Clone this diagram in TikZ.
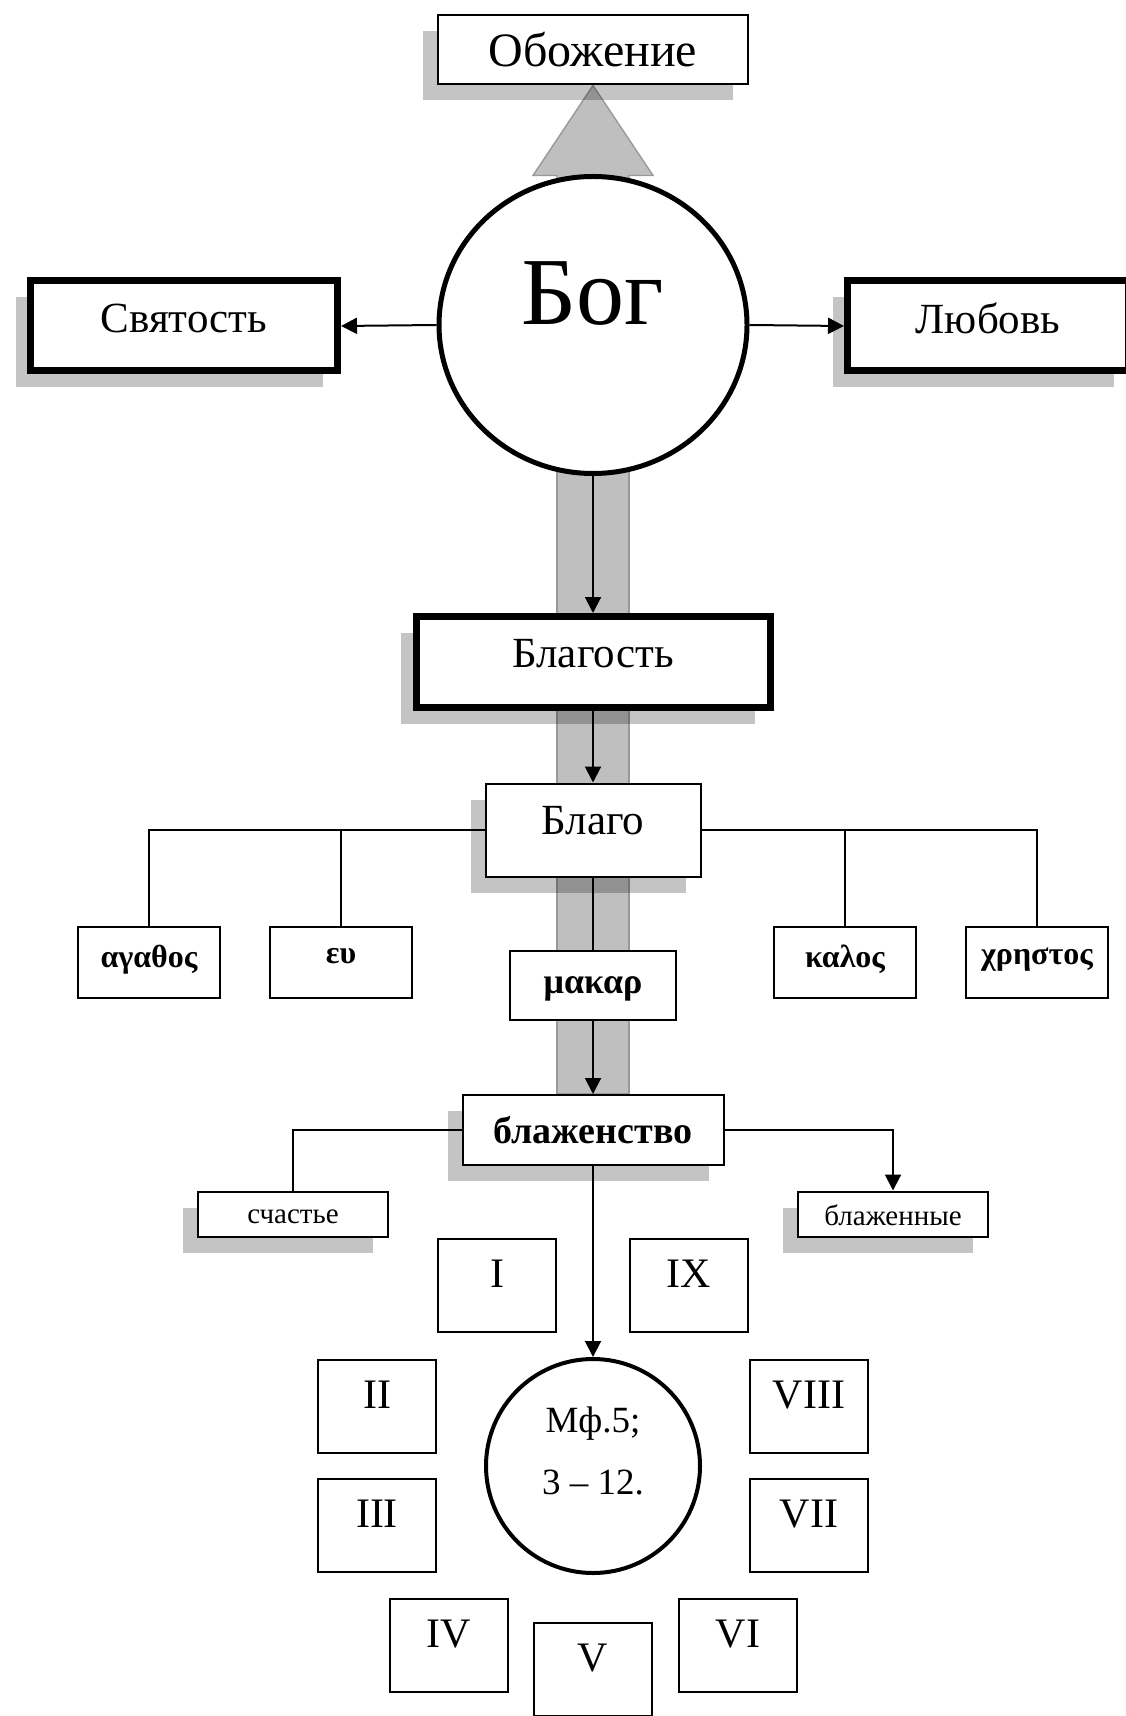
\documentclass[tikz,border=0pt]{standalone}
\usepackage{fontspec}
\setmainfont{Liberation Serif}
\usepackage{tikz}
\usetikzlibrary{calc}
\usetikzlibrary{shapes}
\usetikzlibrary{shadows}
\usetikzlibrary{arrows.meta}
\usetikzlibrary{backgrounds}
\tikzset{
  box/.style={draw, fill=white, line width=1pt, inner sep=0pt},
  heavy/.style={box, line width=3.5pt},
  shade/.style={drop shadow={shadow xshift=-7.5pt, shadow yshift=-8pt, fill=black, opacity=.23}},
  lift/.style={text depth=#1},
  big/.style={font=\fontsize{21.5}{26}\selectfont},
  arr/.style={line width=1pt, -{Triangle[length=8pt,width=8pt]}},
  plain/.style={line width=1pt},
  bigarrow/.style={fill=black!25, draw=black!40, line width=0.7pt},
  greek/.style={box, minimum width=71pt, minimum height=35.5pt, font=\fontsize{16}{19}\selectfont\bfseries, lift=6pt},
  numbox/.style={box, minimum width=59pt, minimum height=46.5pt, font=\fontsize{21}{25}\selectfont, lift=11pt},
  small/.style={box, shade, minimum width=95pt, minimum height=22.5pt, font=\fontsize{14.5}{17}\selectfont}
}
\newcommand{\greekbox}[4]{\node[greek] (#1) at ( #2 , #3 ) {#4};}
\newcommand{\beatitude}[4]{\node[numbox] (#1) at ( #2 , #3 ) {#4};}

\begin{document}
\begin{tikzpicture}[x=0.5pt, y=-0.5pt]
        \useasboundingbox (0,0) rectangle (1125,1716);

        % top
        \node[box, shade, minimum width=155pt, minimum height=34.5pt, font=\fontsize{24}{28}\selectfont] (obozh) at (593,50) {Обожение};
        \node[ellipse, draw, fill=white, line width=2.5pt, inner sep=0pt, minimum width=154pt, minimum height=148.5pt, font=\fontsize{48}{56}\selectfont, lift=32pt] (bog) at (593,325) {Бог};
        \node[heavy, shade, big, minimum width=153.5pt, minimum height=45pt, lift=8pt] (svyat) at (184,326) {Святость};
        \node[heavy, shade, big, minimum width=140.5pt, minimum height=45pt, lift=8pt] (lyub) at (988,326) {Любовь};

        % middle
        \node[heavy, shade, big, minimum width=177pt, minimum height=45.5pt, lift=9pt] (blagost) at (593,662) {Благость};
        \node[box, shade, big, minimum width=107.5pt, minimum height=46.5pt, lift=10pt] (blago) at (593,830) {Благо};

        \greekbox{agathos}{149}{962}{αγαθος}
        \greekbox{eu}{341}{962}{ευ}
        \greekbox{kalos}{845}{962}{καλος}
        \greekbox{chrestos}{1037}{962}{χρηστος}

        \node[box, minimum width=83pt, minimum height=34.5pt, font=\fontsize{18}{21}\selectfont\bfseries, lift=0pt] (makar) at (593,985) {μακαρ};
        \node[box, shade, minimum width=130.5pt, minimum height=35pt, font=\fontsize{19}{22}\selectfont\bfseries] (blazh) at (593,1130) {блаженство};
        \node[small, text height=10pt] (schast) at (293,1214) {счастье};
        \node[small, text height=12pt] (blazhen) at (893,1214) {блаженные};

        % bottom
        \node[circle, draw, fill=white, line width=2pt, inner sep=0pt, minimum size=107pt, align=center, font=\fontsize{18.5}{31}\selectfont, lift=15pt] (mf) at (593,1466) {Мф.5;\\3 – 12.};

        \beatitude{r1}{497}{1285}{I}
        \beatitude{r9}{689}{1285}{IX}
        \beatitude{r2}{377}{1406}{II}
        \beatitude{r8}{809}{1406}{VIII}
        \beatitude{r3}{377}{1525}{III}
        \beatitude{r7}{809}{1525}{VII}
        \beatitude{r4}{449}{1645}{IV}
        \beatitude{r6}{738}{1645}{VI}
        \beatitude{r5}{593}{1669}{V}

        % wide grey arrows
        \begin{scope}[on background layer]
        \filldraw[bigarrow] ($(obozh.south)+(-36,200)$) -- ++(0,-110) -- ++(-24,0) -- (obozh.south) -- ++(60,90) -- ++(-24,0) -- ++(0,110) -- cycle;
        \filldraw[bigarrow] ($(bog.center)+(-36,0)$) rectangle ($(blazh.north)+(36,0)$);
        \end{scope}

        % connectors
        \draw[arr] (bog.west) -- (svyat.east);
        \draw[arr] (bog.east) -- (lyub.west);
        \draw[arr] (bog.south) -- (blagost.north);
        \draw[arr] (blagost.south) -- (blago.north);
        \draw[plain] (blago.west) -| (agathos.north);
        \draw[plain] (blago.west) -| (eu.north);
        \draw[plain] (blago.east) -| (kalos.north);
        \draw[plain] (blago.east) -| (chrestos.north);
        \draw[plain] (blago.south) -- (makar.north);
        \draw[arr] (makar.south) -- (blazh.north);
        \draw[plain] (blazh.west) -| (schast.north);
        \draw[arr] (blazh.east) -| (blazhen.north);
        \draw[arr] (blazh.south) -- (mf.north);
\end{tikzpicture}
\end{document}
